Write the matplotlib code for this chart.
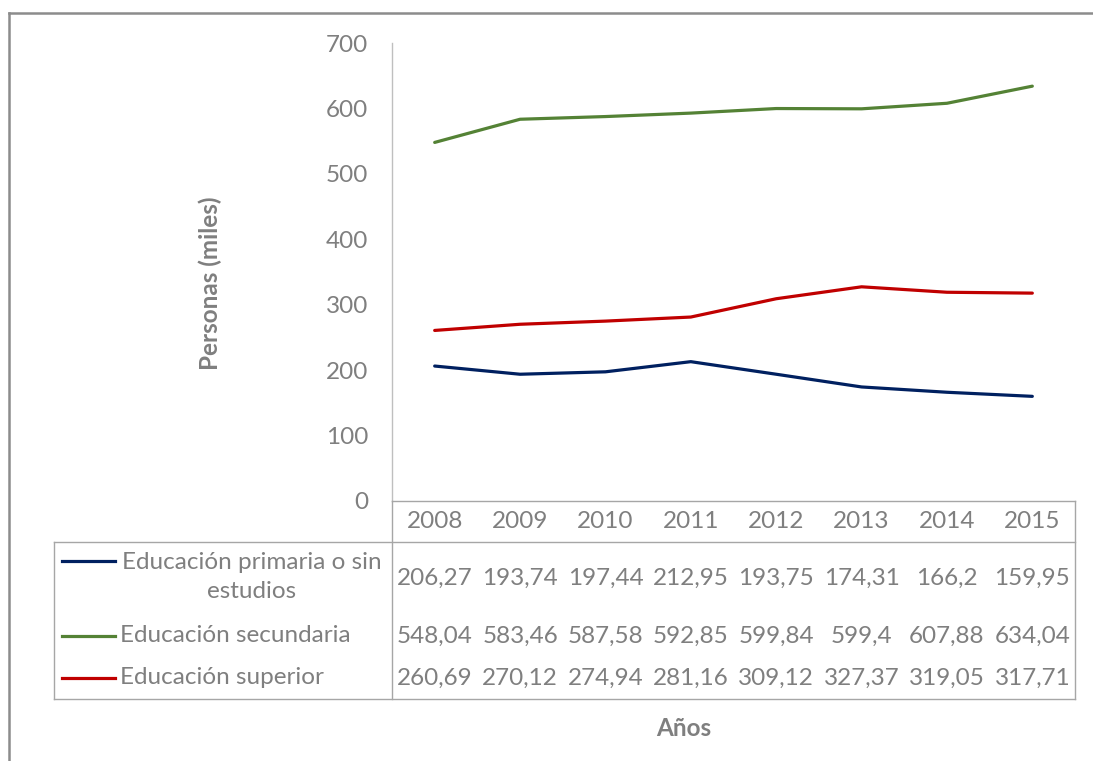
import matplotlib
matplotlib.use("Agg")
import matplotlib.pyplot as plt
from matplotlib.lines import Line2D
from matplotlib import transforms

years = ["2008", "2009", "2010", "2011", "2012", "2013", "2014", "2015"]
primaria = [206.27, 193.74, 197.44, 212.95, 193.75, 174.31, 166.2, 159.95]
secundaria = [548.04, 583.46, 587.58, 592.85, 599.84, 599.4, 607.88, 634.04]
superior = [260.69, 270.12, 274.94, 281.16, 309.12, 327.37, 319.05, 317.71]
series_names = ["Educación primaria o sin\nestudios", "Educación secundaria", "Educación superior"]
yticks = [0, 100, 200, 300, 400, 500, 600, 700]

colors = ["#002060", "#548235", "#C00000"]
text_gray = "#7F7F7F"
grid_gray = "#A6A6A6"
FONT = "Lato"

W, H = 1093, 761
fig = plt.figure(figsize=(W / 100, H / 100), dpi=100)

def fx(px):
    return px / W

def fy(py):
    return 1 - py / H

L, R, T, B = 392, 1075, 43, 501
ax = fig.add_axes([fx(L), fy(B), fx(R) - fx(L), fy(T) - fy(B)])
xs = list(range(len(years)))
for vals, c in zip([primaria, secundaria, superior], colors):
    ax.plot(xs, vals, color=c, lw=2.3, solid_capstyle="round")
ax.set_xlim(-0.5, len(years) - 0.5)
ax.set_ylim(0, 700)
ax.set_yticks(yticks)
ax.set_yticklabels([str(v) for v in yticks], fontsize=17.5, color=text_gray, family=FONT)
ax.tick_params(axis="y", length=0, pad=17)
ax.set_xticks([])
for s in ["top", "right", "bottom"]:
    ax.spines[s].set_visible(False)
ax.spines["left"].set_color("#BFBFBF")
ax.spines["left"].set_linewidth(1.0)

def fline(x0, y0, x1, y1, color=grid_gray, lw=1.0):
    fig.add_artist(Line2D([fx(x0), fx(x1)], [fy(y0), fy(y1)], transform=fig.transFigure,
                          color=color, lw=lw))

# table borders
fline(L, B, R, B)
fline(L, B, L, 699)
fline(R, B, R, 699)
fline(54, 542, R, 542)
fline(54, 699, R, 699)
fline(54, 542, 54, 699)

# outer chart border
fline(9, 13, W, 13, color="#8C8C8C", lw=1.8)
fline(9, 13, 9, H, color="#8C8C8C", lw=1.8)

blend = transforms.blended_transform_factory(ax.transData, fig.transFigure)
fs = 17.5
for i, yr in enumerate(years):
    ax.text(i, fy(521), yr, transform=blend, ha="center", va="center",
            fontsize=fs, color=text_gray, family=FONT, clip_on=False)

def fmt(v):
    s = ("%.2f" % v).rstrip("0").rstrip(".")
    return s.replace(".", ",")

row_y = [578, 636, 678]
for vals, ry in zip([primaria, secundaria, superior], row_y):
    for i, v in enumerate(vals):
        ax.text(i, fy(ry), fmt(v), transform=blend, ha="center", va="center",
                fontsize=fs, color=text_gray, family=FONT, clip_on=False)

# legend keys in table
key_y = [561, 636, 678]
for c, ky in zip(colors, key_y):
    fline(62, ky, 115, ky, color=c, lw=2.3)
fig.text(fx(252), fy(577), series_names[0], ha="center", va="center", fontsize=fs,
         color=text_gray, family=FONT, linespacing=1.45, multialignment="center")
fig.text(fx(120), fy(636), series_names[1], ha="left", va="center", fontsize=fs,
         color=text_gray, family=FONT)
fig.text(fx(120), fy(678), series_names[2], ha="left", va="center", fontsize=fs,
         color=text_gray, family=FONT)

fig.text(fx(210), fy(283), "Personas (miles)", rotation=90, ha="center", va="center",
         fontsize=17.5, fontweight="bold", color=text_gray, family=FONT)
fig.text(fx(684), fy(729), "Años", ha="center", va="center",
         fontsize=17.5, fontweight="bold", color=text_gray, family=FONT)

fig.savefig("out.png", dpi=100, facecolor="white")
